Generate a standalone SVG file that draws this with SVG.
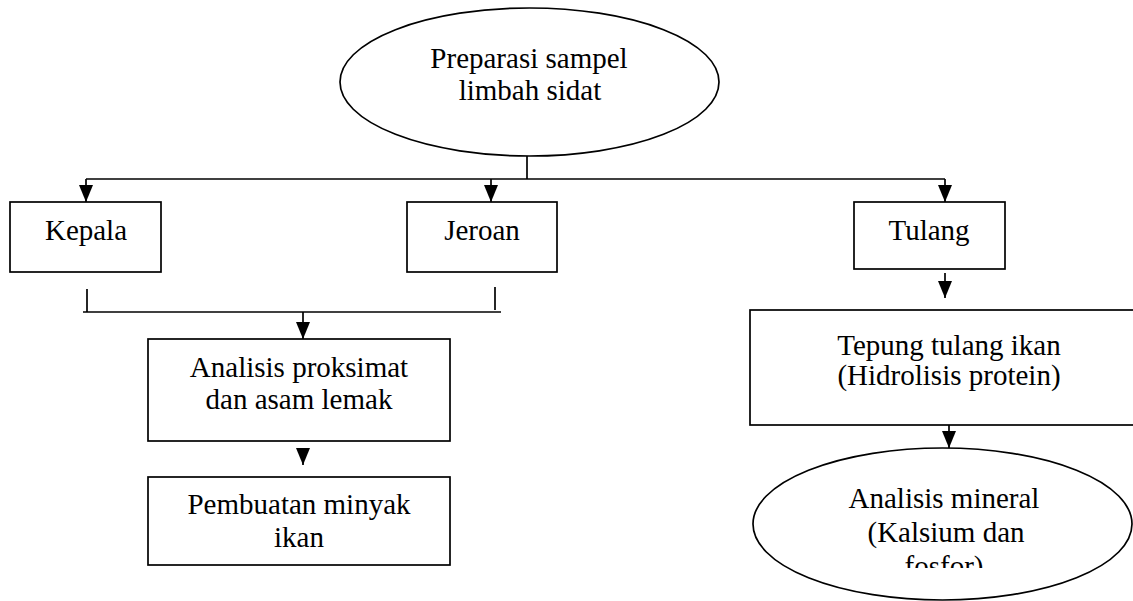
<svg xmlns="http://www.w3.org/2000/svg" width="1133" height="601" viewBox="0 0 1133 601">
<style>
.shape{fill:#fff;stroke:#000;stroke-width:1.7}
.ln{fill:none;stroke:#000;stroke-width:1.7}
text{font-family:"Liberation Serif","Times New Roman",serif;font-size:29px;fill:#000;text-anchor:middle}
</style>
<defs>
<marker id="ahd" viewBox="0 0 17 14" refX="17" refY="7" markerWidth="17" markerHeight="14" markerUnits="userSpaceOnUse" orient="auto">
<path d="M0,0 L17,7 L0,14 Z" fill="#000"/>
</marker>
<clipPath id="clipMin"><rect x="753" y="448" width="380" height="120"/></clipPath>
</defs>
<rect width="1133" height="601" fill="#fff"/>

<g id="connectors">
<path class="ln" d="M527,156 V179"/>
<path class="ln" d="M86,179 H945"/>
<path class="ln" d="M86,179 V202" marker-end="url(#ahd)"/>
<path class="ln" d="M491,179 V202" marker-end="url(#ahd)"/>
<path class="ln" d="M945,179 V202" marker-end="url(#ahd)"/>
<path class="ln" d="M87,289 V312"/>
<path class="ln" d="M495,287 V310"/>
<path class="ln" d="M83,312 H501"/>
<path class="ln" d="M303,312 V339" marker-end="url(#ahd)"/>
<path class="ln" d="M303,448 V465" marker-end="url(#ahd)"/>
<path class="ln" d="M945,273 V298" marker-end="url(#ahd)"/>
<path class="ln" d="M949,423 V448" marker-end="url(#ahd)"/>
</g>

<g id="preparasi">
<ellipse class="shape" cx="529.5" cy="82" rx="189.5" ry="74"/>
<text x="529" y="68">Preparasi sampel</text>
<text x="530" y="100">limbah sidat</text>
</g>

<g id="kepala">
<rect class="shape" x="10" y="202" width="151" height="70"/>
<text x="86" y="240">Kepala</text>
</g>

<g id="jeroan">
<rect class="shape" x="407" y="202" width="150" height="70"/>
<text x="482" y="240">Jeroan</text>
</g>

<g id="tulang">
<rect class="shape" x="854" y="202" width="151" height="67"/>
<text x="929" y="240">Tulang</text>
</g>

<g id="analisis-proksimat">
<rect class="shape" x="148" y="339" width="302" height="102"/>
<text x="299" y="377">Analisis proksimat</text>
<text x="299" y="409">dan asam lemak</text>
</g>

<g id="pembuatan">
<rect class="shape" x="148" y="477" width="302" height="88"/>
<text x="299" y="514">Pembuatan minyak</text>
<text x="299" y="547">ikan</text>
</g>

<g id="tepung">
<rect class="shape" x="750" y="310" width="390" height="115"/>
<text x="949" y="355">Tepung tulang ikan</text>
<text x="949" y="385">(Hidrolisis protein)</text>
</g>

<g id="analisis-mineral">
<ellipse class="shape" cx="942.5" cy="524" rx="189.5" ry="76"/>
<g clip-path="url(#clipMin)">
<text x="944" y="508">Analisis mineral</text>
<text x="946" y="542">(Kalsium dan</text>
<text x="944" y="576">fosfor)</text>
</g>
</g>
</svg>
